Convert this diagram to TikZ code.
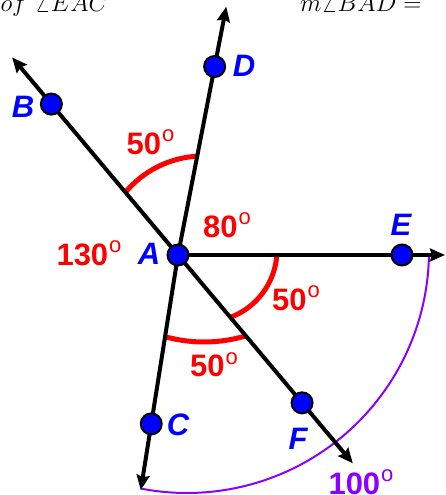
\documentclass[tikz,border=0pt]{standalone}
\usepackage{fontspec}
\setmainfont{Liberation Sans}
\usetikzlibrary{arrows.meta}
\definecolor{rd}{RGB}{255,0,0}
\definecolor{bl}{RGB}{0,0,255}
\definecolor{pu}{RGB}{140,0,255}
\newcommand{\dgr}{\kern1pt\raisebox{12.5pt}{\fontsize{22}{22}\mdseries\selectfont o}}
\tikzset{
  ray/.style={line width=4pt, -{Stealth[length=15pt,width=13pt,inset=2pt]}},
  pt/.style={circle, fill=bl, draw=black, line width=2pt, minimum size=21pt, inner sep=0pt},
  redarc/.style={draw=rd, line width=5pt},
  purparc/.style={draw=pu, line width=2pt},
  deg/.style={text=rd, font=\fontsize{31}{31}\selectfont\bfseries, inner sep=0pt},
  pdeg/.style={text=pu, font=\fontsize{31}{31}\selectfont\bfseries, inner sep=0pt},
  ptlbl/.style={text=bl, font=\fontsize{31}{31}\selectfont\bfseries\itshape, inner sep=0pt},
  toptxt/.style={font=\fontsize{28}{28}\selectfont, inner sep=0pt}
}
\begin{document}
\begin{tikzpicture}[x=1pt,y=1pt]
\useasboundingbox (-178,-240) rectangle (268,255);
\clip (-178,-240) rectangle (268,255);
% top text (cut off)
\node[toptxt, anchor=base east] (t1) at (-70,243.5) {$of\ \angle EAC$};
\node[toptxt, anchor=base west] (t2) at (122,243.5) {$m\angle BAD =$};
% coordinates
\coordinate (A) at (0,0);
\coordinate (Btip) at (130:258);
\coordinate (Dtip) at (79:253);
\coordinate (Etip) at (267,0);
\coordinate (Ftip) at (-50:272);
\coordinate (Ctip) at (-99:238);
% arcs
\draw[purparc] ([shift={(9,4)}]-0.95:242) arc[start angle=-0.95, end angle=-101, radius=242];
\draw[redarc] ([shift={(25,-2)}]140.2:101) arc[start angle=140.2, end angle=93.3, radius=101];
\draw[redarc] ([shift={(27,5)}]-4:72) arc[start angle=-4, end angle=-69.4, radius=72];
\draw[redarc] ([shift={(26,59)}]-105.5:146) arc[start angle=-105.5, end angle=-73.3, radius=146];
% rays
\draw[ray] (A) -- (Btip);
\draw[ray] (A) -- (Dtip);
\draw[ray] (A) -- (Etip);
\draw[ray] (A) -- (Ftip);
\draw[ray] (A) -- (Ctip);
% points
\node[pt] (pA) at (A) {};
\node[pt] (pB) at (130:197) {};
\node[pt] (pD) at (79:192) {};
\node[pt] (pE) at (224,0) {};
\node[pt] (pF) at (-50:193) {};
\node[pt] (pC) at (-99:171) {};
% point labels
\node[ptlbl] (lA) at (-29,1) {A};
\node[ptlbl] (lB) at (-155,148) {B};
\node[ptlbl] (lD) at (66,189) {D};
\node[ptlbl] (lE) at (223,30) {E};
\node[ptlbl] (lC) at (0,-170) {C};
\node[ptlbl] (lF) at (120,-184) {F};
% angle labels
\node[deg] (a130) at (-89,1.5) {130\dgr};
\node[deg] (a80) at (49,30) {80\dgr};
\node[deg] (a50t) at (-27.5,113) {50\dgr};
\node[deg] (a50r) at (118,-43) {50\dgr};
\node[deg] (a50b) at (36,-109.5) {50\dgr};
\node[pdeg] (a100) at (183,-227) {100\dgr};
\end{tikzpicture}
\end{document}
